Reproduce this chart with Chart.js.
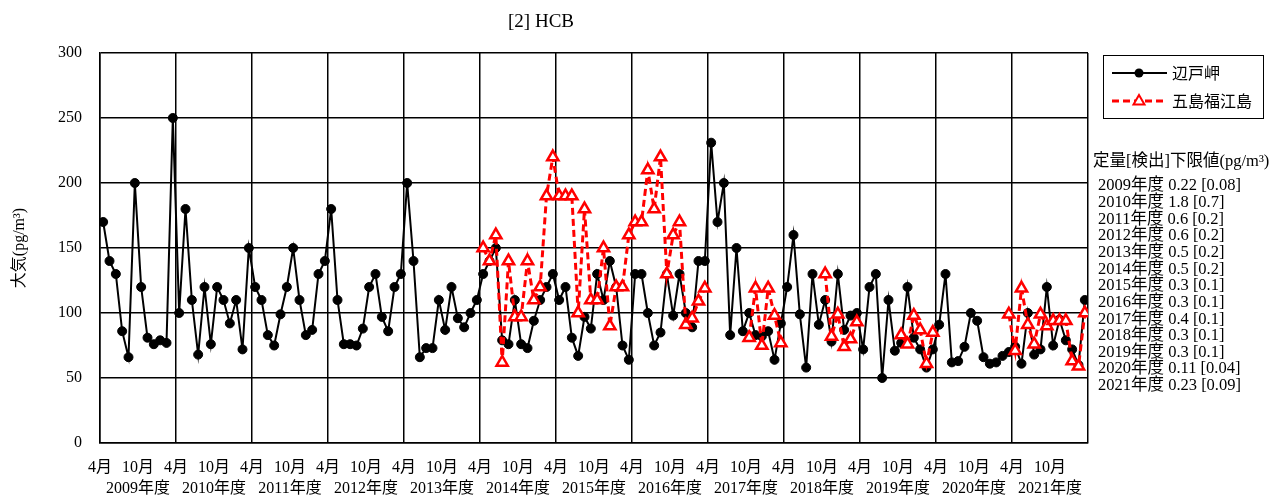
<!DOCTYPE html>
<html>
<head>
<meta charset="utf-8">
<script src="https://cdn.jsdelivr.net/npm/chart.js@4/dist/chart.umd.min.js"></script>
<style>
  html, body { margin: 0; padding: 0; background: #fff; }
  #wrap { width: 1271px; height: 497px; }
</style>
</head>
<body>
<div id="wrap"><canvas id="hcbChart" width="1271" height="497"></canvas></div>
<script>
/* ===== data (monthly, April 2009 - March 2022) ===== */
var years = ['2009年度', '2010年度', '2011年度', '2012年度', '2013年度', '2014年度', '2015年度',
             '2016年度', '2017年度', '2018年度', '2019年度', '2020年度', '2021年度'];
var monthTicks = ['4月', '10月'];

// 辺戸岬 (one row per fiscal year, Apr..Mar)
var hedo = [
    170, 140, 130,  86,  66, 200, 120,  81,  76,  79,  77, 250,
    100, 180, 110,  68, 120,  76, 120, 110,  92, 110,  72, 150,
    120, 110,  83,  75,  99, 120, 150, 110,  83,  87, 130, 140,
    180, 110,  76,  76,  75,  88, 120, 130,  97,  86, 120, 130,
    200, 140,  66,  73,  73, 110,  87, 120,  96,  89, 100, 110,
    130, 140, 150,  79,  76, 110,  76,  73,  94, 110, 120, 130,
    110, 120,  81,  67,  97,  88, 130, 110, 140, 120,  75,  64,
    130, 130, 100,  75,  85, 130,  98, 130, 100,  89, 140, 140,
    231, 170, 200,  83, 150,  86, 100,  83,  82,  86,  64,  92,
    120, 160,  99,  58, 130,  91, 110,  78, 130,  87,  98, 100,
     72, 120, 130,  50, 110,  71,  77, 120,  81,  72,  58,  72,
     91, 130,  62,  63,  74, 100,  94,  66,  61,  62,  67,  70,
     74,  61, 100,  68,  72, 120,  75,  95,  79,  72,  60, 110
];

// 五島福江島
var N = null;
var fukue = [
    N, N, N, N, N, N, N, N, N, N, N, N,
    N, N, N, N, N, N, N, N, N, N, N, N,
    N, N, N, N, N, N, N, N, N, N, N, N,
    N, N, N, N, N, N, N, N, N, N, N, N,
    N, N, N, N, N, N, N, N, N, N, N, N,
    150, 140, 160,  62, 140,  97,  97, 140, 110, 120, 190, 220,
    190, 190, 190, 100, 180, 110, 110, 150,  90, 120, 120, 160,
    170, 170, 210, 180, 220, 130, 160, 170,  91,  96, 109, 119,
    N, N, N, N, N, N,                  81, 119,  75, 119,  98,  77,
    N, N, N, N, N, N,                 130,  82,  99,  74,  80,  93,
    N, N, N, N, N, N,                  83,  76,  98,  87,  61,  85,
    N, N, N, N, N, N, N, N, N, N, N,   99,
     71, 119,  91,  76,  99,  90,  94,  94,  94,  63,  59, 100
];

var limitTitle = '定量[検出]下限値(pg/m³)';
var limitNotes = [
    '2009年度 0.22 [0.08]', '2010年度 1.8 [0.7]', '2011年度 0.6 [0.2]', '2012年度 0.6 [0.2]',
    '2013年度 0.5 [0.2]', '2014年度 0.5 [0.2]', '2015年度 0.3 [0.1]', '2016年度 0.3 [0.1]',
    '2017年度 0.4 [0.1]', '2018年度 0.3 [0.1]', '2019年度 0.3 [0.1]', '2020年度 0.11 [0.04]',
    '2021年度 0.23 [0.09]'
];

/* ===== chart ===== */
var SERIF = "'Liberation Serif', 'Noto Sans CJK JP', serif";
var CJK = "'Noto Sans CJK JP', 'Liberation Serif', sans-serif";
var MONTHS = years.length * 12;

function toPoints(arr) {
    return arr.map(function (v, i) { return { x: i + 0.5, y: v }; });
}

Chart.defaults.font.family = SERIF;
Chart.defaults.color = '#000';

var decor = {
    id: 'decor',
    afterDraw: function (chart) {
        var ctx = chart.ctx;
        ctx.save();
        ctx.fillStyle = '#000';
        ctx.textBaseline = 'middle';

        // title
        ctx.font = '19px ' + SERIF;
        ctx.textAlign = 'center';
        ctx.fillText('[2] HCB', 541, 22);

        // legend box
        ctx.strokeStyle = '#000';
        ctx.lineWidth = 1;
        ctx.strokeRect(1103.5, 55.5, 160, 63);
        var ds = chart.data.datasets;

        ctx.beginPath();
        ctx.strokeStyle = '#000';
        ctx.lineWidth = 2;
        ctx.moveTo(1112, 73); ctx.lineTo(1167, 73);
        ctx.stroke();
        ctx.beginPath();
        ctx.fillStyle = '#000';
        ctx.arc(1139, 73, 4.5, 0, Math.PI * 2);
        ctx.fill();

        ctx.beginPath();
        ctx.strokeStyle = '#ff0000';
        ctx.lineWidth = 3;
        ctx.setLineDash([7, 4]);
        ctx.moveTo(1112, 101); ctx.lineTo(1167, 101);
        ctx.stroke();
        ctx.setLineDash([]);
        ctx.beginPath();
        ctx.fillStyle = '#fff';
        ctx.lineWidth = 2;
        ctx.moveTo(1139, 95); ctx.lineTo(1144.5, 104.5); ctx.lineTo(1133.5, 104.5); ctx.closePath();
        ctx.fill(); ctx.stroke();

        ctx.fillStyle = '#000';
        ctx.textAlign = 'left';
        ctx.font = '16px ' + CJK;
        ctx.fillText(ds[0].label, 1172, 73);
        ctx.fillText(ds[1].label, 1172, 101);

        // detection limits
        ctx.font = '16.5px ' + SERIF;
        ctx.fillText(limitTitle, 1093, 162);
        limitNotes.forEach(function (t, i) {
            ctx.fillText(t, 1098, 186 + i * 16.65);
        });
        ctx.restore();
    }
};

new Chart(document.getElementById('hcbChart'), {
    type: 'line',
    data: {
        datasets: [{
            label: '辺戸岬',
            data: toPoints(hedo),
            borderColor: '#000',
            backgroundColor: '#000',
            borderWidth: 2,
            pointRadius: 4.5,
            pointBackgroundColor: '#000',
            pointBorderColor: '#000',
            pointBorderWidth: 1,
            tension: 0,
            spanGaps: false,
            order: 2
        }, {
            label: '五島福江島',
            data: toPoints(fukue),
            borderColor: '#ff0000',
            backgroundColor: '#fff',
            borderWidth: 3,
            borderDash: [7, 4],
            pointStyle: 'triangle',
            pointRadius: 6.5,
            pointBackgroundColor: '#fff',
            pointBorderColor: '#ff0000',
            pointBorderWidth: 2.5,
            tension: 0,
            spanGaps: false,
            order: 1
        }]
    },
    options: {
        responsive: false,
        animation: false,
        layout: { padding: { left: 0, top: 53, right: 183, bottom: 0 } },
        plugins: {
            legend: { display: false },
            tooltip: { enabled: false },
            title: { display: false }
        },
        scales: {
            x: {
                type: 'linear',
                position: 'bottom',
                weight: 0,
                min: 0, max: MONTHS,
                afterBuildTicks: function (s) {
                    var t = [];
                    for (var v = 0; v <= MONTHS; v += 6) t.push({ value: v });
                    s.ticks = t;
                },
                afterFit: function (s) { s.height = 34; },
                grid: {
                    drawTicks: false,
                    lineWidth: 1.5,
                    color: function (c) {
                        return c.tick && c.tick.value % 12 === 0 ? '#000' : 'rgba(0,0,0,0)';
                    }
                },
                border: { color: '#000', width: 1.5 },
                ticks: {
                    autoSkip: false, maxRotation: 0, padding: 15,
                    font: { size: 16 },
                    callback: function (v) { return v >= MONTHS ? '' : monthTicks[(v / 6) % 2]; }
                }
            },
            x2: {
                type: 'linear',
                position: 'bottom',
                weight: 1,
                min: 0, max: MONTHS,
                afterBuildTicks: function (s) {
                    s.ticks = years.map(function (y, i) { return { value: i * 12 + 6 }; });
                },
                afterFit: function (s) { s.height = 20; },
                grid: { display: false, drawTicks: false },
                border: { display: false },
                ticks: {
                    autoSkip: false, maxRotation: 0, padding: 2,
                    font: { size: 16 },
                    callback: function (v) { return years[(v - 6) / 12]; }
                }
            },
            y: {
                min: 0, max: 300,
                afterFit: function (s) { s.width = 100; },
                grid: { color: '#000', lineWidth: 1.5, drawTicks: false },
                border: { color: '#000', width: 1.5 },
                ticks: { stepSize: 50, padding: 18, font: { size: 16 } },
                title: {
                    display: true, text: '大気(pg/m³)',
                    font: { size: 16 }, padding: { top: 10, bottom: 0 }
                }
            }
        }
    },
    plugins: [decor]
});
</script>
</body>
</html>
